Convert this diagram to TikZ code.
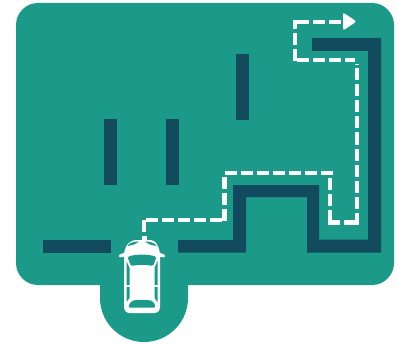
\documentclass[tikz,border=0pt]{standalone}
\usetikzlibrary{arrows.meta}
\definecolor{teal}{HTML}{1B9A8A}
\definecolor{wall}{HTML}{124A5E}
\tikzset{
  wallbar/.style={draw=none, fill=wall},
  route/.style={draw=white, line width=3.4pt, dash pattern=on 9pt off 3pt},
  carpart/.style={fill=white, draw=none},
  glass/.style={fill=teal, draw=none}
}
\begin{document}
\begin{tikzpicture}[x=0.75pt,y=-0.75pt]
  \useasboundingbox (0,0) rectangle (398,345);
  % ground
  \fill[teal,rounded corners=16.5pt] (16,3) rectangle (394,285);
  \fill[teal] (100,280) -- (100,298) arc[start angle=180,end angle=360,x radius=44,y radius=-44] -- (188,280) -- cycle;

  % walls
  \fill[wallbar] (43,240) rectangle (111,252.5);
  \fill[wallbar] (178,240) -- (233,240) -- (233,185) -- (319,185) -- (319,239.5) -- (368,239.5)
    -- (368,51) -- (312,51) -- (312,38) -- (381,38) -- (381,252.5) -- (307,252.5) -- (307,197)
    -- (246,197) -- (246,252.5) -- (178,252.5) -- cycle;
  \fill[wallbar] (236,54) rectangle (249,120);
  \fill[wallbar] (104,119) rectangle (117,185);
  \fill[wallbar] (166,119) rectangle (179,185);

  % route, leg by leg
  \foreach \ax/\ay/\bx/\by in {144/232/144/218, 146/220/222/220, 224.5/221/224.5/175, 225/173/333/173,
                     330/178/330/222, 328/222.5/355/222.5, 357/224.5/357/64, 297/60/355/60,
                     295/61.5/295/20, 297/22/345/22} {
    \draw[route] (\ax,\ay) -- (\bx,\by);
  }
  \fill[white,rounded corners=1.5pt] (343,12.5) -- (356.5,21.5) -- (343,30.5) -- cycle;

  % car
  \fill[carpart] (142,241) rectangle (146.5,236);
  \fill[carpart] (124,306) -- (124,256) .. controls (124,248) and (128,240) .. (137,240)
    -- (151,240) .. controls (156,240) and (160,248) .. (160,256) -- (160,306)
    .. controls (160,311) and (158,313) .. (154,313) -- (130,313)
    .. controls (126,313) and (124,311) .. (124,306) -- cycle;
  \fill[carpart,rounded corners=1pt] (118.5,255) -- (126,252) -- (127,256.5) -- (119,257.5) -- cycle;
  \fill[carpart,rounded corners=1pt] (165.5,255) -- (158,252) -- (157,256.5) -- (165,257.5) -- cycle;
  \fill[glass,rounded corners=1pt] (127.5,257) .. controls (135,254) and (149,254) .. (156.5,257)
    -- (153,266) .. controls (146,264.5) and (138,264.5) .. (131,266) -- cycle;
  \fill[glass] (127.5,246) .. controls (129,243) and (133,241.5) .. (139,241.5)
    .. controls (136,244) and (132,245.5) .. (127.5,246) -- cycle;
  \fill[glass] (156.5,246) .. controls (155,243) and (151,241.5) .. (145,241.5)
    .. controls (148,244) and (152,245.5) .. (156.5,246) -- cycle;
  \fill[glass] (126.5,261) -- (129.5,268) -- (129.5,285) -- (126.5,285) -- cycle;
  \fill[glass] (157.5,261) -- (154.5,268) -- (154.5,285) -- (157.5,285) -- cycle;
  \fill[glass] (126.5,287) -- (129.5,287) -- (129.5,298) -- (126.5,302) -- cycle;
  \fill[glass] (157.5,287) -- (154.5,287) -- (154.5,298) -- (157.5,302) -- cycle;
  \fill[glass,rounded corners=1.5pt] (131,301) .. controls (138,299.5) and (146,299.5) .. (153,301)
    -- (156,307.5) -- (128,307.5) -- cycle;
\end{tikzpicture}
\end{document}
